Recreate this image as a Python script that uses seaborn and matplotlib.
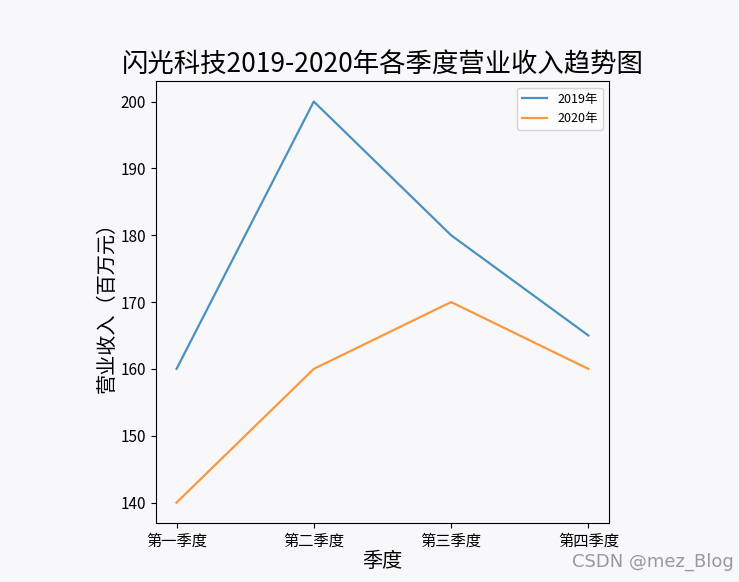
import matplotlib
matplotlib.use('Agg')
import matplotlib.pyplot as plt
import pandas as pd
import seaborn as sns

# Data
quarters = ['第一季度', '第二季度', '第三季度', '第四季度']
revenue_2019 = [160, 200, 180, 165]
revenue_2020 = [140, 160, 170, 160]

df = pd.DataFrame({
    '季度': quarters * 2,
    '营业收入': revenue_2019 + revenue_2020,
    '年份': ['2019年'] * 4 + ['2020年'] * 4,
})

plt.rcParams['font.family'] = ['Noto Sans CJK SC', 'DejaVu Sans']
plt.rcParams['axes.unicode_minus'] = False

bg = '#f8f8fb'
fig = plt.figure(figsize=(7.39, 5.82), dpi=100, facecolor=bg)
ax = fig.add_axes([0.211, 0.102, 0.613, 0.758], facecolor=bg)

sns.lineplot(data=df, x='季度', y='营业收入', hue='年份',
             hue_order=['2019年', '2020年'],
             palette=['#1f77b4', '#ff7f0e'],
             alpha=0.8, linewidth=1.6, sort=False, ax=ax)

ax.set_title('闪光科技2019-2020年各季度营业收入趋势图', fontsize=19, pad=6)
ax.set_xlabel('季度', fontsize=14.5, labelpad=1)
ax.set_ylabel('营业收入（百万元）', fontsize=14.5, labelpad=2)
ax.tick_params(labelsize=11)
ax.legend(loc='upper right', fontsize=9, title=None)

# watermark
fig.text(0.993, 0.034, 'CSDN @mez_Blog', ha='right', va='center',
         fontsize=13, color='#999999', family=['DejaVu Sans'])

fig.savefig('out.png', dpi=100, facecolor=bg)
